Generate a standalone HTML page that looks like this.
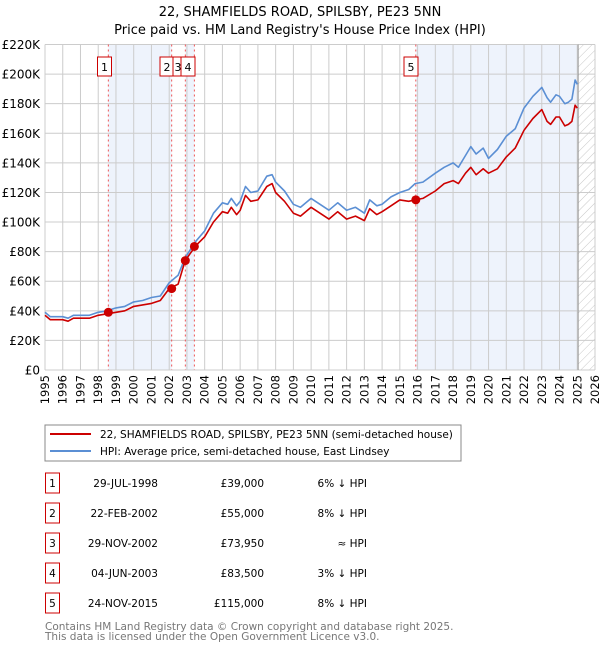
<!DOCTYPE html>
<html><head><meta charset="utf-8"><style>
body{margin:0;background:#fff;font-family:"DejaVu Sans","Liberation Sans",sans-serif;}
#wrap{position:relative;width:600px;height:650px;overflow:hidden}
svg text{font-family:"DejaVu Sans","Liberation Sans",sans-serif}
</style></head><body><div id="wrap">
<svg id="c" width="600" height="650" xmlns="http://www.w3.org/2000/svg">
<defs><pattern id="hatch" width="6" height="6" patternUnits="userSpaceOnUse" patternTransform="rotate(45)"><line x1="0" y1="0" x2="0" y2="6" stroke="#c8c8c8" stroke-width="1"/></pattern></defs>
<text x="300" y="16" text-anchor="middle" font-size="13">22, SHAMFIELDS ROAD, SPILSBY, PE23 5NN</text>
<text x="300" y="34" text-anchor="middle" font-size="13">Price paid vs. HM Land Registry's House Price Index (HPI)</text>
<g id="plot"></g>
<rect x="45" y="425" width="416" height="36" fill="none" stroke="#888"/>
<line x1="50" y1="434" x2="91" y2="434" stroke="#cc0000" stroke-width="2"/>
<text x="100" y="438" font-size="10.5">22, SHAMFIELDS ROAD, SPILSBY, PE23 5NN (semi-detached house)</text>
<line x1="50" y1="451" x2="91" y2="451" stroke="#5b8fd4" stroke-width="2"/>
<text x="100" y="455" font-size="10.5">HPI: Average price, semi-detached house, East Lindsey</text>
<g id="table" font-size="10.5"></g>
<text x="45" y="630" font-size="10.5" fill="#777">Contains HM Land Registry data © Crown copyright and database right 2025.</text>
<text x="45" y="640" font-size="10.5" fill="#777">This data is licensed under the Open Government Licence v3.0.</text>
</svg></div>
<script>
const hpiYears=[1995,1995.3,1995.6,1996,1996.3,1996.6,1997,1997.5,1998,1998.5,1999,1999.5,2000,2000.5,2001,2001.5,2002,2002.5,2002.9,2003.5,2004,2004.5,2005,2005.3,2005.5,2005.8,2006,2006.3,2006.6,2007,2007.5,2007.8,2008,2008.5,2009,2009.4,2010,2010.5,2011,2011.5,2012,2012.5,2013,2013.3,2013.7,2014,2014.5,2015,2015.5,2015.86,2016.3,2017,2017.5,2018,2018.3,2018.7,2019,2019.3,2019.7,2020,2020.5,2021,2021.5,2022,2022.5,2023,2023.3,2023.5,2023.8,2024,2024.3,2024.5,2024.7,2024.88,2025.0];
const hpiValues=[39,36,36,36,35,37,37,37,39,40,42,43,46,47,49,50,59,64,76,87,94,106,113,112,116,111,114,124,120,121,131,132,127,121,112,110,116,112,108,113,108,110,106,115,111,112,117,120,122,126,127,133,137,140,137,145,151,146,150,143,149,158,163,177,185,191,184,181,186,185,180,181,183,196,193];
const priceYears=hpiYears;
const priceValues=[37,34,34,34,33,35,35,35,37,38,39,40,43,44,45,47,55,58,74,84,90,100,107,106,110,105,108,118,114,115,124,126,120,114,106,104,110,106,102,107,102,104,101,109,105,107,111,115,114,115,116,121,126,128,126,133,137,132,136,133,136,144,150,162,170,176,168,166,171,171,165,166,168,179,177];
const saleYears=[1998.57,2002.14,2002.91,2003.42,2015.9];
const salePrices=[39000,55000,73950,83500,115000];
const saleDates=["29-JUL-1998","22-FEB-2002","29-NOV-2002","04-JUN-2003","24-NOV-2015"];
const salePriceLabels=["£39,000","£55,000","£73,950","£83,500","£115,000"];
const saleHpiLabels=["6% ↓ HPI","8% ↓ HPI","≈ HPI","3% ↓ HPI","8% ↓ HPI"];
const yTicks=[0,20,40,60,80,100,120,140,160,180,200,220];
const yTickLabels=["£0","£20K","£40K","£60K","£80K","£100K","£120K","£140K","£160K","£180K","£200K","£220K"];
const xTicks=[1995,1996,1997,1998,1999,2000,2001,2002,2003,2004,2005,2006,2007,2008,2009,2010,2011,2012,2013,2014,2015,2016,2017,2018,2019,2020,2021,2022,2023,2024,2025,2026];
const dataEnd=2025.05;

const L=45,R=595,T=44.5,B=370,x0=1995,x1=2026,yMax=220;
const X=y=>L+(y-x0)/(x1-x0)*(R-L);
const Y=v=>B-v/yMax*(B-T);
const NS="http://www.w3.org/2000/svg";
const plot=document.getElementById('plot');
function mk(tag,attrs,parent){const e=document.createElementNS(NS,tag);for(const k in attrs)e.setAttribute(k,attrs[k]);(parent||plot).appendChild(e);return e;}
const shadePairs=[[0,1],[2,3]];
shadePairs.forEach(p=>{const r=mk('rect',{x:X(saleYears[p[0]]),y:T,width:X(saleYears[p[1]])-X(saleYears[p[0]]),height:B-T,fill:'#eef3fc'});

});
const r5=mk('rect',{x:X(saleYears[4]),y:T,width:X(dataEnd)-X(saleYears[4]),height:B-T,fill:'#eef3fc'});


const hr=mk('rect',{x:X(dataEnd),y:T,width:R-X(dataEnd),height:B-T,fill:'url(#hatch)'});


xTicks.forEach((t,i)=>{const l=mk('line',{x1:X(t),x2:X(t),y1:T,y2:B,stroke:'#cccccc'});


const tx=mk('text',{x:0,y:0,'font-size':11.5,'text-anchor':'end',transform:`translate(${X(t)+4},${B+5}) rotate(-90)`});tx.textContent=t;

});
yTicks.forEach((t,i)=>{const l=mk('line',{x1:L,x2:R,y1:Y(t),y2:Y(t),stroke:'#cccccc'});


const tx=mk('text',{x:L-5,y:Y(t)+4.5,'font-size':12,'text-anchor':'end'});tx.textContent=yTickLabels[i];

});
const el=mk('line',{x1:X(dataEnd),x2:X(dataEnd),y1:T,y2:B,stroke:'#999'});


saleYears.forEach((s,i)=>{const l=mk('line',{x1:X(s),x2:X(s),y1:T,y2:B,stroke:'#ee5555','stroke-dasharray':'2,3'});

});
function path(xs,vs,col,name){const d=xs.map((t,i)=>(i?'L':'M')+X(t).toFixed(1)+','+Y(vs[i]).toFixed(1)).join('');
const p=mk('path',{d,fill:'none',stroke:col,'stroke-width':1.6,'stroke-linejoin':'round'});

}
path(hpiYears,hpiValues,'#5b8fd4','hpi-line');
path(priceYears,priceValues,'#cc0000','price-line');
const labelCenters=[104.5,167,178,188,411];
saleYears.forEach((s,i)=>{const c=mk('circle',{cx:X(s),cy:Y(salePrices[i]/1000),r:4.5,fill:'#cc0000'});


const g=mk('g',{});


const cx=labelCenters[i];
const w=(i===2)?10:14;
mk('rect',{x:cx-w/2,y:57,width:w,height:19,fill:'#fff',stroke:'#cc0000'},g);
const t=mk('text',{x:cx,y:71,'font-size':11,'text-anchor':'middle'},g);t.textContent=i+1;});
const tb=document.getElementById('table');
const rowY=[483,513,543,573,603];
saleDates.forEach((d,i)=>{const g=mk('g',{},tb);


mk('rect',{x:45.5,y:rowY[i]-10,width:14,height:20,fill:'none',stroke:'#cc0000'},g);
const n=mk('text',{x:52.5,y:rowY[i]+4,'text-anchor':'middle'},g);n.textContent=i+1;
const a=mk('text',{x:158,y:rowY[i]+4,'text-anchor':'end'},g);a.textContent=d;
const b=mk('text',{x:264,y:rowY[i]+4,'text-anchor':'end'},g);b.textContent=salePriceLabels[i];
const c=mk('text',{x:367,y:rowY[i]+4,'text-anchor':'end'},g);c.textContent=saleHpiLabels[i];});
</script></body></html>
